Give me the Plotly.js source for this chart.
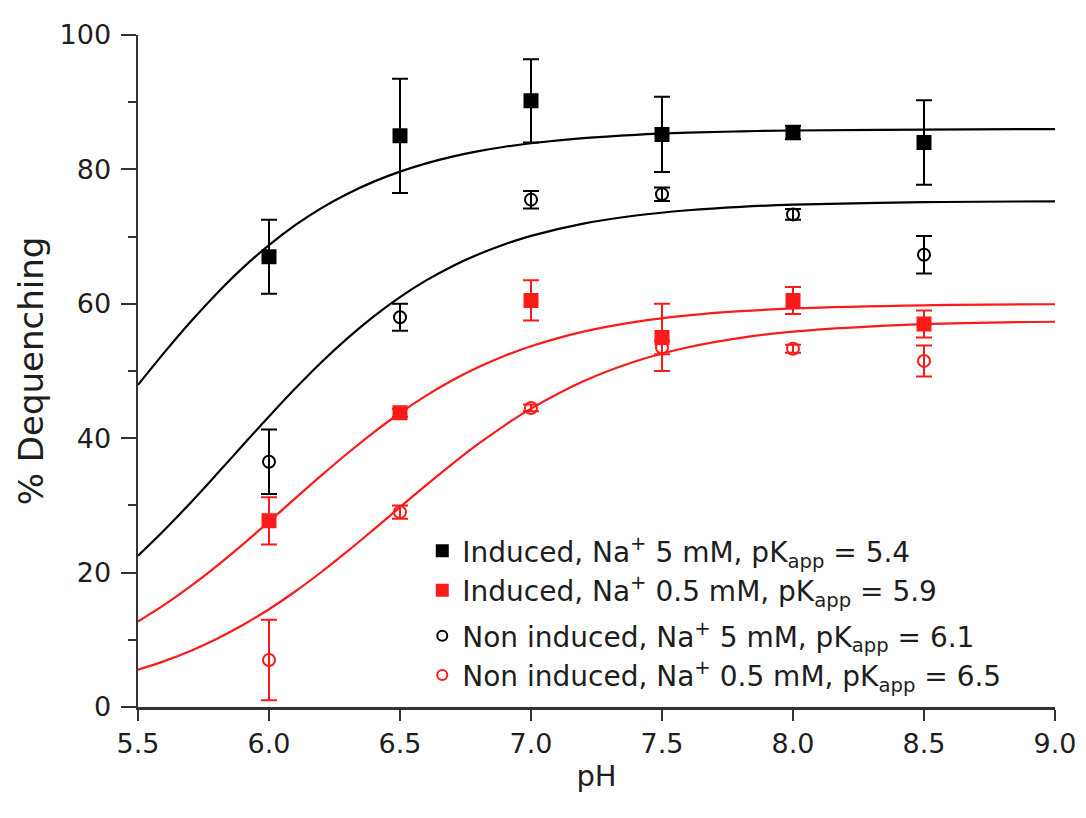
<!DOCTYPE html>
<html>
<head>
<meta charset="utf-8">
<script src="https://cdn.plot.ly/plotly-3.0.1.min.js"></script>
<style>html,body{margin:0;padding:0;background:#fff;}#chart{width:1086px;height:818px;}</style>
</head>
<body>
<div id="chart"></div>
<script>
// Measured points
const pH = [6.0, 6.5, 7.0, 7.5, 8.0, 8.5];
const induced5 = [67.0, 85.0, 90.2, 85.2, 85.5, 84.0];
const induced5Err = [5.5, 8.5, 6.2, 5.6, 1.0, 6.3];
const induced05 = [27.7, 43.8, 60.5, 55.0, 60.5, 57.0];
const induced05Err = [3.5, 0.6, 3.0, 5.0, 2.0, 2.0];
const nonInduced5 = [36.5, 58.0, 75.5, 76.3, 73.3, 67.3];
const nonInduced5Err = [4.8, 2.0, 1.3, 1.0, 0.8, 2.8];
const nonInduced05 = [7.0, 29.0, 44.5, 53.5, 53.3, 51.5];
const nonInduced05Err = [6.0, 1.0, 0.5, 1.0, 0.6, 2.3];

// Fitted curves
const fitPH = [5.5,5.6,5.7,5.8,5.9,6.0,6.1,6.2,6.3,6.4,6.5,6.6,6.7,6.8,6.9,7.0,7.2,7.4,7.6,7.8,8.0,8.5,9.0];
const fitInduced5 = [47.93,52.73,57.29,61.51,65.34,68.73,71.70,74.24,76.38,78.18,79.67,80.90,81.90,82.71,83.37,83.89,84.66,85.15,85.46,85.66,85.79,85.93,86.0];
const fitNonInduced5 = [22.52,26.31,30.37,34.62,38.95,43.24,47.39,51.31,54.90,58.14,61.00,63.48,65.60,67.38,68.87,70.11,71.93,73.14,73.92,74.43,74.75,75.13,75.24];
const fitInduced05 = [12.73,15.19,17.94,20.96,24.20,27.59,31.04,34.46,37.76,40.88,43.75,46.33,48.61,50.58,52.27,53.69,55.86,57.32,58.28,58.90,59.31,59.78,59.93];
const fitNonInduced05 = [5.56,6.83,8.35,10.13,12.20,14.55,17.19,20.09,23.19,26.44,29.74,33.02,36.19,39.18,41.92,44.40,48.47,51.45,53.53,54.93,55.85,56.97,57.33];

const names = [
  'Induced, Na<sup>+</sup> 5 mM, pK<sub>app</sub> = 5.4',
  'Induced, Na<sup>+</sup> 0.5 mM, pK<sub>app</sub> = 5.9',
  'Non induced, Na<sup>+</sup> 5 mM, pK<sub>app</sub> = 6.1',
  'Non induced, Na<sup>+</sup> 0.5 mM, pK<sub>app</sub> = 6.5'
];
const xTicks = [5.5, 6.0, 6.5, 7.0, 7.5, 8.0, 8.5, 9.0];
const xTickText = ['5.5','6.0','6.5','7.0','7.5','8.0','8.5','9.0'];
const yTicks = [0, 20, 40, 60, 80, 100];

const RED = '#ff1a1a';
const INK = '#1e1e1e';
const FAMILY = 'DejaVu Sans, Liberation Sans, Arial, sans-serif';

function fit(y, color) {
  return {x: fitPH, y: y, mode: 'lines', line: {color: color, width: 2.2, shape: 'spline'},
          showlegend: false, hoverinfo: 'skip'};
}
function pts(y, err, color, symbol) {
  return {x: pH, y: y, mode: 'markers', type: 'scatter', showlegend: false,
    marker: {symbol: symbol, size: symbol.indexOf('open') >= 0 ? 12 : 13, color: color,
             line: {color: color, width: 2}},
    error_y: {type: 'data', array: err, visible: true, color: color, thickness: 2, width: 8}};
}
function key(color, symbol, name, legendId) {
  return {x: [null], y: [null], name: name, mode: 'markers', type: 'scatter', legend: legendId,
    marker: {symbol: symbol, size: symbol.indexOf('open') >= 0 ? 10 : 11, color: color,
             line: {color: color, width: 2}}};
}

const data = [
  fit(fitInduced5, '#000'), fit(fitNonInduced5, '#000'),
  fit(fitInduced05, RED), fit(fitNonInduced05, RED),
  pts(induced5, induced5Err, '#000', 'square'),
  pts(induced05, induced05Err, RED, 'square'),
  pts(nonInduced5, nonInduced5Err, '#000', 'circle-open'),
  pts(nonInduced05, nonInduced05Err, RED, 'circle-open'),
  key('#000', 'square', names[0], 'legend'),
  key(RED, 'square', names[1], 'legend'),
  key('#000', 'circle-open', names[2], 'legend2'),
  key(RED, 'circle-open', names[3], 'legend2')
];

const legendFont = {family: FAMILY, size: 28, color: INK};
const layout = {
  width: 1086, height: 818,
  margin: {l: 138, r: 31, t: 35, b: 111},
  paper_bgcolor: '#fff', plot_bgcolor: '#fff',
  font: {family: FAMILY, size: 26, color: INK},
  showlegend: true,
  legend: {x: 0.31, y: 0.2693, xanchor: 'left', yanchor: 'top', bgcolor: 'rgba(0,0,0,0)',
           font: legendFont, tracegroupgap: 0, itemwidth: 30},
  legend2: {x: 0.31, y: 0.1429, xanchor: 'left', yanchor: 'top', bgcolor: 'rgba(0,0,0,0)',
           font: legendFont, tracegroupgap: 0, itemwidth: 30},
  xaxis: {range: [5.5, 9.0], tickvals: xTicks, ticktext: xTickText, showgrid: false, zeroline: false,
          showline: true, linecolor: '#333', linewidth: 3, ticks: 'outside', ticklen: 11, tickwidth: 2,
          tickcolor: '#333', tickfont: {family: FAMILY, size: 27, color: INK},
          title: {text: 'pH', font: {family: FAMILY, size: 29, color: INK}, standoff: 8}},
  yaxis: {range: [0, 100], tickvals: yTicks, showgrid: false, zeroline: false,
          showline: true, linecolor: '#333', linewidth: 2.5, ticks: 'outside', ticklen: 15, tickwidth: 2,
          tickcolor: '#333', tickfont: {family: FAMILY, size: 27, color: INK}, ticklabelstandoff: 4,
          minor: {dtick: 10, ticks: 'outside', ticklen: 8, tickwidth: 2, tickcolor: '#333', showgrid: false},
          title: {text: '% Dequenching', font: {family: FAMILY, size: 34, color: INK}, standoff: 6}}
};
Plotly.newPlot('chart', data, layout, {staticPlot: true});
</script>
</body>
</html>
